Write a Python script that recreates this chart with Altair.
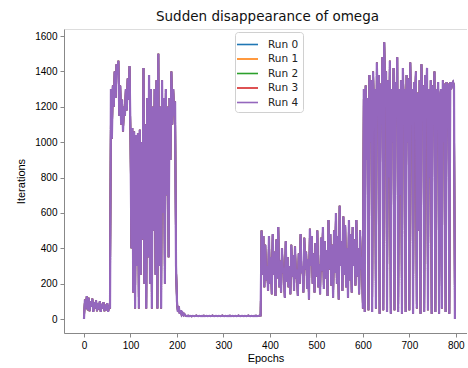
import altair as alt
import pandas as pd

runs = ["Run 0", "Run 1", "Run 2", "Run 3", "Run 4"]
colors = ["#1f77b4", "#ff7f0e", "#2ca02c", "#d62728", "#9467bd"]

# iterations per epoch (read every 2 epochs), identical for all runs
seg_low = [0, 110, 60, 130, 50, 120, 45, 100, 70, 115, 40, 95, 60, 105, 45, 90,
           55, 100, 40, 85, 60, 95, 45, 80, 50, 90, 40, 75]
seg_high1 = [60, 1300, 1020, 1320, 1200, 1400, 1250, 1440, 1380, 1460, 1150, 1320,
             1100, 1240, 1060, 1200, 1150, 1300, 1180, 1360, 1240, 1430]
seg_osc1 = [1050, 400, 1080, 150, 1060, 60, 1040, 300, 1050, 60, 1070, 250, 1000, 450,
            1420, 200, 1100, 60, 1250, 350, 1380, 200, 1300, 60, 1200, 500, 1300, 250,
            1350, 60, 1500, 300, 1200, 60, 1350, 600, 1250, 200, 1300, 700, 1200, 350,
            1250, 900, 1400, 1100, 1300, 1150, 1230, 300]
seg_flat = [100, 40, 70, 30, 50, 25, 35, 22, 28, 20,
            18, 17, 19, 16, 18, 17, 15, 18, 17, 16, 18, 19, 17, 16, 18, 17,
            16, 18, 17, 19, 16, 17, 18, 16, 17, 18, 16, 17, 19, 18, 16, 17,
            18, 17, 16, 18, 17, 16, 18, 19, 17, 16, 18, 17, 16, 18, 17, 19,
            16, 17, 18, 16, 17, 18, 16, 17, 19, 18, 16, 17, 18, 17, 16, 18,
            17, 16, 18, 19, 17, 16, 18, 17, 16, 18, 17, 19, 16, 17, 18, 20]
seg_mid = [20, 500, 250, 470, 180, 420, 220, 300, 160, 470, 200, 350, 140, 480, 250,
           380, 130, 450, 230, 520, 180, 330, 150, 400, 260, 290, 120, 440, 210, 350,
           180, 300, 140, 420, 240, 360, 160, 410, 230, 280, 130, 370, 200, 480, 260,
           300, 150, 460, 280, 380, 170, 340, 110, 510, 300, 470, 200, 370, 150, 430,
           240, 500, 180, 310, 140, 460, 270, 520, 170, 440, 230, 390, 130, 560, 280,
           480, 190, 420, 120, 500, 260, 600, 200, 470, 110, 640, 300, 440, 160, 580,
           250, 530, 180, 400, 120, 560, 220, 480, 150, 520, 300, 450, 190, 560, 240,
           400, 140, 500, 280, 350]
seg_osc2 = [60, 1300, 40, 1320, 900, 1250, 50, 1380, 1000, 1350, 40, 1400, 1150, 1300,
            60, 1450, 1200, 1380, 30, 1330, 1100, 1480, 50, 1565, 1250, 1400, 40, 1350,
            800, 1460, 30, 1300, 1000, 1420, 50, 1340, 1150, 1480, 40, 1300, 700, 1350,
            30, 1420, 1200, 1300, 40, 1380, 1000, 1360, 50, 1450, 1100, 1300, 30, 1340,
            1200, 1400, 60, 1280, 500, 1350, 30, 1440, 1150, 1320, 40, 1380, 1250, 1420,
            50, 1300, 800, 1350, 30, 1320, 1100, 1400, 40, 1300, 1200, 1340, 30, 1250,
            1300, 60, 1350, 1000, 1330, 40, 1340, 1200, 1330, 30, 1340, 1300, 1330, 1340,
            1320, 0]

iterations = seg_low + seg_high1 + seg_osc1 + seg_flat + seg_mid + seg_osc2
epochs = list(range(0, 2 * len(iterations), 2))

rows = []
for r in runs:
    for e, v in zip(epochs, iterations):
        rows.append({"Epoch": e, "Iterations": v, "Run": r})
df = pd.DataFrame(rows)

font = "DejaVu Sans"

x_enc = alt.X("Epoch:Q", title="Epochs",
              scale=alt.Scale(domain=[-43, 824], nice=False, zero=False),
              axis=alt.Axis(values=[0, 100, 200, 300, 400, 500, 600, 700, 800], grid=False,
                            format="d", tickSize=4, labelPadding=3, titlePadding=2,
                            titleFontWeight="normal"))
y_enc = alt.Y("Iterations:Q", title="Iterations",
              scale=alt.Scale(domain=[-79, 1640], nice=False, zero=False),
              axis=alt.Axis(values=[0, 200, 400, 600, 800, 1000, 1200, 1400, 1600], grid=False,
                            format="d", tickSize=4, labelPadding=3, titlePadding=8,
                            titleFontWeight="normal"))
c_enc = alt.Color("Run:N", scale=alt.Scale(domain=runs, range=colors),
                  legend=alt.Legend(title=None, orient="none", legendX=171, legendY=3,
                                    symbolType="M-1.4,0H1.4", symbolSize=225,
                                    symbolStrokeWidth=1.6,
                                    labelFontSize=10.5, labelFont=font, labelColor="#222",
                                    rowPadding=0.5, padding=4, strokeColor="#d0d0d0",
                                    fillColor="white", cornerRadius=3, labelOffset=12))

base = alt.Chart(df).mark_line(clip=True, strokeWidth=1.6).encode(
    x=x_enc, y=y_enc, color=c_enc, detail="Run:N")
top = alt.Chart(df).transform_filter(alt.datum.Run == "Run 4").mark_line(
    clip=True, strokeWidth=2.2).encode(x=x_enc, y=y_enc, color=c_enc)

chart = alt.layer(base, top).properties(
    width=403, height=304,
    title=alt.TitleParams("Sudden disappearance of omega", fontSize=13.5, font=font,
                          fontWeight="normal", color="#111", anchor="middle", offset=6, dx=2),
    autosize=alt.AutoSizeParams(type="none"),
    padding={"left": 64, "top": 29, "right": 0, "bottom": 35},
).configure_view(
    stroke="#333", strokeWidth=1
).configure_axis(
    labelFont=font, titleFont=font, labelFontSize=10, titleFontSize=10,
    titleFontWeight="normal", labelColor="#222", titleColor="#222",
    domainColor="#333", tickColor="#333"
).configure(background="white")

chart.save("out.html", embed_options={"renderer": "svg", "actions": False})
